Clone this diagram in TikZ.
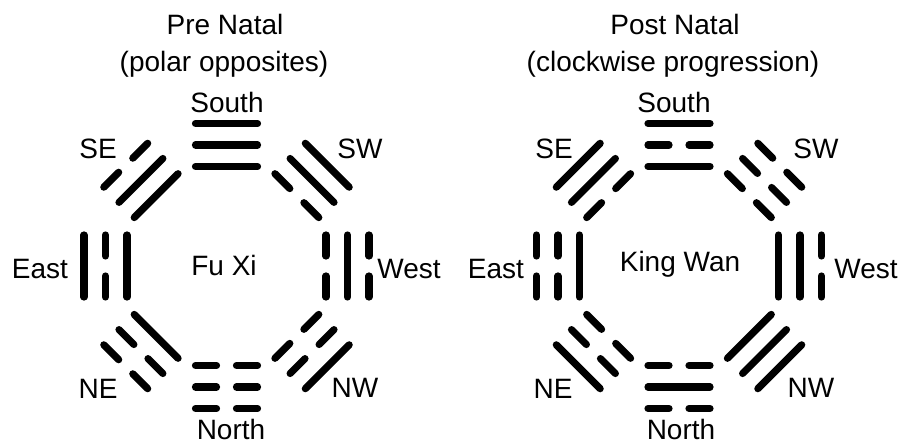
\documentclass[tikz,border=0pt]{standalone}
\usepackage{fontspec}
\setmainfont{Liberation Sans}
\usetikzlibrary{positioning}
\tikzset{
  yao/.style={line width=7.2pt, line cap=round},
  lbl/.style={font=\fontsize{28}{33}\selectfont, anchor=base, inner sep=0pt}
}
\begin{document}
\begin{tikzpicture}[x=1pt, y=-1pt]
                \useasboundingbox (0,0) rectangle (900,444);

                % Pre Natal side
                \node[lbl] (pretitle) at (225,35) {Pre Natal};
                \node[lbl] (presub) at (224,72) {(polar opposites)};
                \node[lbl] (prename) at (224,275) {Fu Xi};
                \node[lbl] (presouth) at (227,112) {South};
                \node[lbl] (prenorth) at (231,439) {North};
                \node[lbl] (preeast) at (40,278) {East};
                \node[lbl] (prewest) at (409,278) {West};
                \node[lbl] (prese) at (98,158) {SE};
                \node[lbl] (presw) at (360,158) {SW};
                \node[lbl] (prene) at (98,398) {NE};
                \node[lbl] (prenw) at (355,397) {NW};
                \foreach \ang/\ya/\yb/\yc in {270/1/1/1, 315/0/1/1, 0/0/1/0, 45/0/0/1,
                                              90/0/0/0, 135/1/0/0, 180/1/0/1, 225/1/1/0} {
                    \begin{scope}[shift={(226.5,266)}, rotate=-\ang]
                        \foreach \k/\v in {0/\ya,1/\yb,2/\yc} {
                            \pgfmathsetmacro\d{99.5+21.5*\k}
                            \ifnum\v=1\relax
                                \draw[yao] (\d,-31) -- (\d,31);
                            \else
                                \draw[yao] (\d,-31) -- (\d,-10) (\d,10) -- (\d,31);
                            \fi
                        }
                    \end{scope}
                }

                % Post Natal side
                \node[lbl] (posttitle) at (675,35) {Post Natal};
                \node[lbl] (postsub) at (673,72) {(clockwise progression)};
                \node[lbl] (postname) at (680,271) {King Wan};
                \node[lbl] (postsouth) at (674,112) {South};
                \node[lbl] (postnorth) at (681,439) {North};
                \node[lbl] (posteast) at (496,278) {East};
                \node[lbl] (postwest) at (866,278) {West};
                \node[lbl] (postse) at (554,158) {SE};
                \node[lbl] (postsw) at (816,158) {SW};
                \node[lbl] (postne) at (553,398) {NE};
                \node[lbl] (postnw) at (811,397) {NW};
                \foreach \ang/\ya/\yb/\yc in {270/1/0/1, 315/0/0/0, 0/1/1/0, 45/1/1/1,
                                              90/0/1/0, 135/0/0/1, 180/1/0/0, 225/0/1/1} {
                    \begin{scope}[shift={(679,266)}, rotate=-\ang]
                        \foreach \k/\v in {0/\ya,1/\yb,2/\yc} {
                            \pgfmathsetmacro\d{99.5+21.5*\k}
                            \ifnum\v=1\relax
                                \draw[yao] (\d,-31) -- (\d,31);
                            \else
                                \draw[yao] (\d,-31) -- (\d,-10) (\d,10) -- (\d,31);
                            \fi
                        }
                    \end{scope}
                }
            \end{tikzpicture}
\end{document}
